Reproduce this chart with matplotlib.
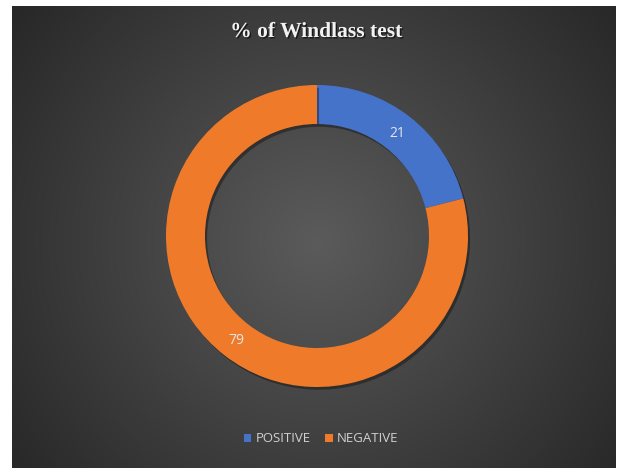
import numpy as np
import matplotlib
matplotlib.use("Agg")
import matplotlib.pyplot as plt
from matplotlib.patches import Patch
import matplotlib.patheffects as pe

categories = ["POSITIVE", "NEGATIVE"]
values = [21, 79]
colors = ["#4573CA", "#EF7B2A"]
title = "% of Windlass test"

W, H = 621, 468
fig = plt.figure(figsize=(W / 100, H / 100), dpi=100, facecolor="white")

# background with radial gradient
bx0, by0, bw, bh = 12, 0, 604, 462
bg = fig.add_axes([bx0 / W, by0 / H, bw / W, bh / H])
yy, xx = np.mgrid[0:bh, 0:bw]
cx, cy = 305, 225
d = np.sqrt((xx - cx) ** 2 + (yy - cy) ** 2) / 380.0
d = np.clip(d, 0, 1)
c_in = np.array([0x5b, 0x5b, 0x5b]) / 255
c_out = np.array([0x28, 0x28, 0x28]) / 255
img = c_in[None, None, :] * (1 - d[..., None]) + c_out[None, None, :] * d[..., None]
bg.imshow(img, aspect="auto", extent=[0, bw, 0, bh], origin="lower")
bg.axis("off")

# donut
ax = fig.add_axes([0, 0, 1, 1])
ax.set_facecolor("none")
center = (317, H - 236)
R = 151
width = 39
wedges, _ = ax.pie(values, colors=colors, startangle=90, counterclock=False,
                   radius=R, center=center, frame=True,
                   wedgeprops=dict(width=width, edgecolor="none"))
for w in wedges:
    w.set_path_effects([pe.SimplePatchShadow(offset=(1.5, -2), shadow_rgbFace="black", alpha=0.35), pe.Normal()])

# labels at ring middle
start = 90
rmid = R - width / 2
total = sum(values)
for v in values:
    ang = np.deg2rad(start - v / total * 360 / 2)
    ax.text(center[0] + rmid * np.cos(ang), center[1] + rmid * np.sin(ang) - 1, str(v),
            ha="center", va="center", color="#e6e6e6", fontsize=10, family="Open Sans")
    start -= v / total * 360

ax.set_xlim(0, W)
ax.set_ylim(0, H)
ax.axis("off")

fig.text(316 / W, 1 - 32 / H, title, ha="center", va="center", color="#f2f2f2",
         fontsize=15.5, fontweight="bold", family="Liberation Serif",
         path_effects=[pe.withSimplePatchShadow(offset=(1, -1), shadow_rgbFace="black", alpha=0.6)])

handles = [Patch(facecolor=c, edgecolor="none") for c in colors]
fig.legend(handles, categories, loc="center", bbox_to_anchor=(321 / W, 1 - 439 / H),
           ncol=2, frameon=False, handlelength=0.6, handleheight=0.6, handletextpad=0.3,
           columnspacing=1.1, labelcolor="#d0d0d0", prop=dict(family="Open Sans", size=9.5))

fig.savefig("out.png", dpi=100, facecolor="white")
